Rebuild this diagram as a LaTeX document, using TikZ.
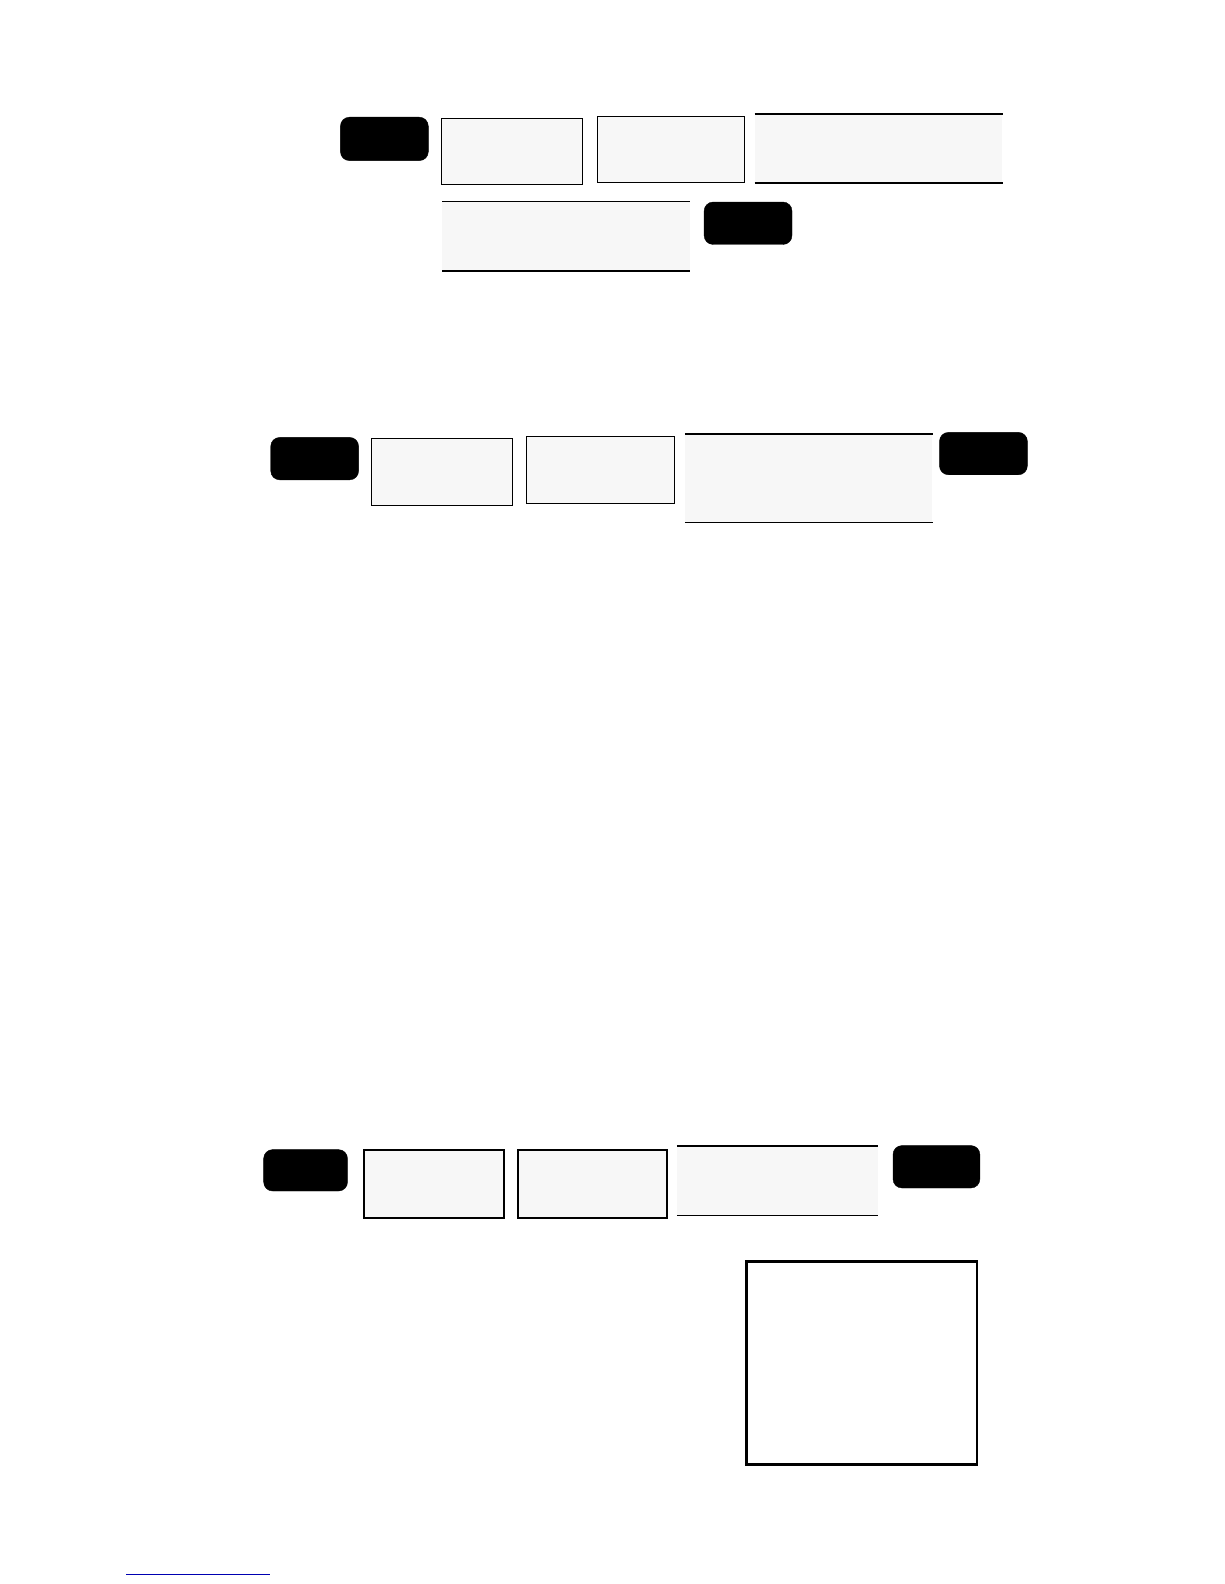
\documentclass[tikz,border=0pt]{standalone}
\begin{document}
\begin{tikzpicture}[x=1pt,y=-1pt,
  blackbox/.style={fill=black,draw=black,rounded corners=9pt,inner sep=0pt},
  graybox/.style={fill=gray!6,draw=black,line width=0.9pt,inner sep=0pt},
  grayboxthick/.style={fill=gray!6,draw=black,line width=2.2pt,inner sep=0pt},
  bandbox/.style={fill=gray!6,draw=none,inner sep=0pt},
  thickrule/.style={line width=2pt},
  thinrule/.style={line width=1pt},
  bigbox/.style={fill=white,draw=black,line width=2.6pt,inner sep=0pt},
  noteline/.style={draw=blue!70!black,line width=0.6pt}]
\useasboundingbox (0,0) rectangle (1224,1584);
\begin{scope}[scale=1.0102,transform shape]
% row 1
\node[blackbox,minimum width=87pt,minimum height=43pt] (k1) at (380.5,137.5) {};
\node[graybox,minimum width=140pt,minimum height=66pt] (a1) at (507,150) {};
\node[graybox,minimum width=146pt,minimum height=66pt] (a2) at (664,148) {};
\node[bandbox,minimum width=245pt,minimum height=68pt] (a3) at (869.5,147) {};
\draw[thickrule] (a3.north west) -- (a3.north east);
\draw[thickrule] (a3.south west) -- (a3.south east);
\node[bandbox,minimum width=245pt,minimum height=68pt] (a4) at (560.5,234) {};
\draw[thinrule] (a4.north west) -- (a4.north east);
\draw[thickrule] (a4.south west) -- (a4.south east);
\node[blackbox,minimum width=87pt,minimum height=42pt] (k2) at (740.5,221) {};
% row 2
\node[blackbox,minimum width=87pt,minimum height=42pt] (k3) at (311.5,454) {};
\node[graybox,minimum width=139pt,minimum height=66pt] (b1) at (437.5,467) {};
\node[graybox,minimum width=147pt,minimum height=66pt] (b2) at (594.5,465) {};
\node[bandbox,minimum width=245pt,minimum height=87pt] (b3) at (800.5,473.5) {};
\draw[thickrule] (b3.north west) -- (b3.north east);
\draw[thinrule] (b3.south west) -- (b3.south east);
\node[blackbox,minimum width=87pt,minimum height=42pt] (k4) at (973.5,449) {};
% row 3
\node[blackbox,minimum width=83pt,minimum height=41pt] (k5) at (302.5,1158.5) {};
\node[grayboxthick,minimum width=139pt,minimum height=68pt] (c1) at (429.5,1172) {};
\node[grayboxthick,minimum width=147pt,minimum height=68pt] (c2) at (586.5,1172) {};
\node[bandbox,minimum width=199pt,minimum height=69pt] (c3) at (769.5,1168.5) {};
\draw[thickrule] (c3.north west) -- (c3.north east);
\draw[thinrule] (c3.south west) -- (c3.south east);
\node[blackbox,minimum width=86pt,minimum height=42pt] (k6) at (927,1155) {};
% big box
\node[bigbox,minimum width=228pt,minimum height=201pt] (big) at (853,1349.5) {};
% footnote rule
\coordinate (n1) at (125,1558);
\coordinate (n2) at (267,1558);
\draw[noteline] (n1) -- (n2);
\end{scope}
\end{tikzpicture}
\end{document}
